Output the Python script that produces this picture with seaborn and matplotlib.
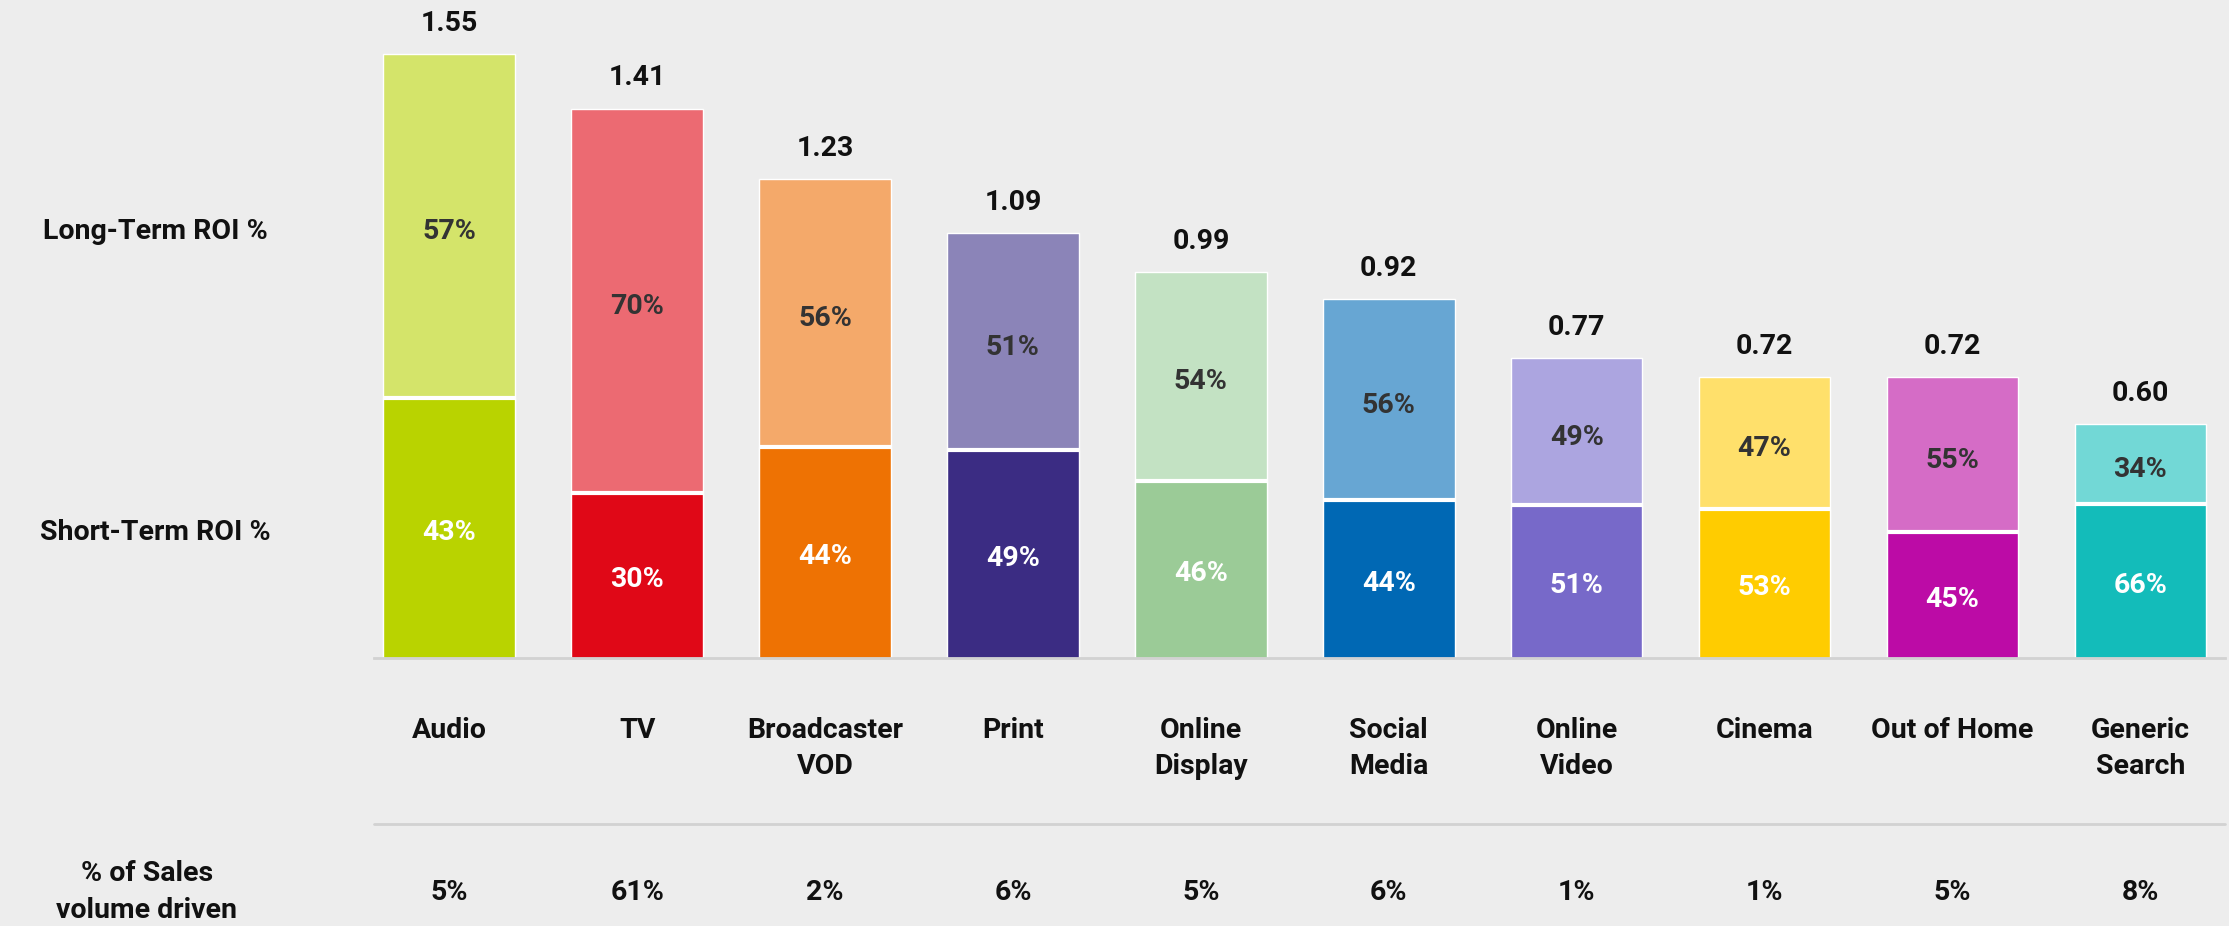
import matplotlib
matplotlib.use("Agg")
import matplotlib.pyplot as plt
import matplotlib.transforms as mtransforms
import pandas as pd
import seaborn as sns

# Channel data: total ROI per £, split into short- and long-term shares
channels = ["Audio", "TV", "Broadcaster\nVOD", "Print", "Online\nDisplay",
            "Social\nMedia", "Online\nVideo", "Cinema", "Out of Home", "Generic\nSearch"]
total_roi = [1.55, 1.41, 1.23, 1.09, 0.99, 0.92, 0.77, 0.72, 0.72, 0.60]
short_term_pct = [43, 30, 44, 49, 46, 44, 51, 53, 45, 66]
long_term_pct = [57, 70, 56, 51, 54, 56, 49, 47, 55, 34]
sales_volume_pct = [5, 61, 2, 6, 5, 6, 1, 1, 5, 8]

long_colors = ["#D4E46A", "#EC6A72", "#F4A96A", "#8B84B8", "#C3E2C3",
               "#67A6D3", "#ACA5E0", "#FFE06B", "#D56CC6", "#72D8D6"]
short_colors = ["#B9D300", "#E00817", "#EE7203", "#3B2C83", "#9BCB97",
                "#0068B4", "#7769C9", "#FFCC00", "#BC0BA6", "#13BCBA"]

BG = "#EDEDED"
W, H = 2229, 926

sns.set_theme(style="white")
plt.rcParams["font.family"] = ["Roboto", "DejaVu Sans"]

df = pd.DataFrame({
    "channel": channels,
    "total": total_roi,
    "short_pct": short_term_pct,
    "long_pct": long_term_pct,
    "sales": sales_volume_pct,
})
df["short_roi"] = df["total"] * df["short_pct"] / 100.0

fig = plt.figure(figsize=(W / 100, H / 100), dpi=100)
fig.patch.set_facecolor(BG)
ax = fig.add_axes([374 / W, (H - 658) / H, (2225 - 374) / W, 658 / H])
ax.set_facecolor(BG)

BAR_W = 0.7
# full bar in the long-term tint, short-term part drawn over it
sns.barplot(data=df, x="channel", y="total", hue="channel", palette=long_colors,
            width=BAR_W, saturation=1, legend=False, ax=ax, errorbar=None)
sns.barplot(data=df, x="channel", y="short_roi", hue="channel", palette=short_colors,
            width=BAR_W, saturation=1, legend=False, ax=ax, errorbar=None)

xs = list(range(len(df)))
# white separator between the two segments
ax.hlines(df["short_roi"], [x - BAR_W / 2 for x in xs], [x + BAR_W / 2 for x in xs],
          colors="white", linewidth=3, zorder=5)

ax.set_xlim(-0.40, 9.45)
ax.set_ylim(0, 658 / 389.7)
ax.set_xticks([])
ax.set_yticks([])
ax.set_xlabel("")
ax.set_ylabel("")
for s in ["top", "left", "right"]:
    ax.spines[s].set_visible(False)
ax.spines["bottom"].set_color("#D2D2D2")
ax.spines["bottom"].set_linewidth(2)

FS = 20.5
WEIGHT = "bold"

for i, row in df.iterrows():
    # total ROI above each bar
    ax.annotate(f"{row['total']:.2f}", (i, row["total"]), xytext=(0, 22),
                textcoords="offset points", ha="center", va="center",
                fontsize=FS, fontweight=WEIGHT, color="#111111")
    long_mid = row["short_roi"] + (row["total"] - row["short_roi"]) / 2
    ax.annotate(f"{row['long_pct']}%", (i, long_mid), xytext=(0, -4),
                textcoords="offset points", ha="center", va="center",
                fontsize=FS, fontweight=WEIGHT, color="#333333")
    ax.annotate(f"{row['short_pct']}%", (i, row["short_roi"] / 2), xytext=(0, -3),
                textcoords="offset points", ha="center", va="center",
                fontsize=FS, fontweight=WEIGHT, color="white")

# category names and sales-volume row below the axis
xaxis_tr = mtransforms.blended_transform_factory(ax.transData, ax.transAxes)
for i, row in df.iterrows():
    ax.text(i, (658 - 717) / 658, row["channel"], transform=xaxis_tr,
            ha="center", va="top", fontsize=FS, fontweight=WEIGHT,
            color="#111111", linespacing=1.45)
    ax.text(i, (658 - 893) / 658, f"{row['sales']}%", transform=xaxis_tr,
            ha="center", va="center", fontsize=FS, fontweight=WEIGHT, color="#111111")

ax.plot([0, 1], [(658 - 824) / 658] * 2, transform=ax.transAxes, clip_on=False,
        color="#D2D2D2", linewidth=2)

# row labels on the left
left_tr = mtransforms.blended_transform_factory(fig.transFigure, ax.transData)
a = df.iloc[0]
ax.annotate("Long-Term ROI %", (43 / W, a["short_roi"] + (a["total"] - a["short_roi"]) / 2),
            xycoords=left_tr, xytext=(0, -4), textcoords="offset points",
            ha="left", va="center", fontsize=FS, fontweight=WEIGHT, color="#111111")
ax.annotate("Short-Term ROI %", (40 / W, a["short_roi"] / 2),
            xycoords=left_tr, xytext=(0, -3), textcoords="offset points",
            ha="left", va="center", fontsize=FS, fontweight=WEIGHT, color="#111111")
fig.text(147 / W, (H - 892) / H, "% of Sales\nvolume driven", ha="center", va="center",
         fontsize=FS, fontweight=WEIGHT, color="#111111", linespacing=1.45)

fig.savefig("out.png", dpi=100, facecolor=BG)
